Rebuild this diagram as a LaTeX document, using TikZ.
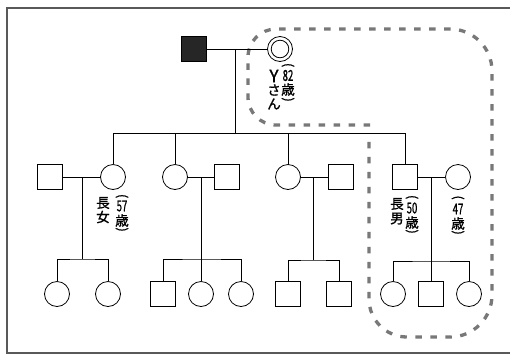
\documentclass[tikz,border=0pt]{standalone}
\usepackage{fontspec}
\usepackage{graphicx}
\newfontfamily\jp{Noto Sans CJK JP}[FakeBold=1.2]
\definecolor{framecol}{rgb}{0.35,0.35,0.35}
\definecolor{dashcol}{rgb}{0.47,0.47,0.47}
\newcommand{\vl}{\rotatebox[origin=c]{-90}{(}}
\newcommand{\vr}{\rotatebox[origin=c]{-90}{)}}
\newcommand{\nar}[1]{\scalebox{0.64}[1]{#1}}
\begin{document}
\begin{tikzpicture}[x=1pt,y=-1pt,
  male/.style={draw,line width=0.8pt,rectangle,minimum size=25pt,inner sep=0pt,fill=white},
  female/.style={draw,line width=0.8pt,circle,minimum size=25pt,inner sep=0pt,fill=white},
  link/.style={line width=0.8pt},
  lbl/.style={inner sep=0pt,font=\jp\fontsize{13.5}{13.5}\selectfont},
  nlbl/.style={inner sep=0pt,font=\jp\fontsize{15}{15}\selectfont},
  plbl/.style={inner sep=0pt,font=\jp\fontsize{12.5}{12.5}\selectfont},
  boundary/.style={draw=dashcol,line width=3.3pt,dash pattern=on 6.5pt off 8.5pt}]
\useasboundingbox (0,0) rectangle (510,357);
\fill[white] (0,0) rectangle (510,357);
% frame
\draw[framecol,line width=1.3pt] (510,8) -- (7,8) -- (7,353) -- (510,353);

% boundary
\draw[boundary] (370,125) [rounded corners=28pt] -- (248,125) -- (248,29)
  [rounded corners=42pt] -- (492,29) -- (492,337) [rounded corners=38pt] -- (369,337)
  [sharp corners] -- (369,137);

% generation 1
\node[male,fill=black!85] (f) at (193.5,49) {};
\node[female] (m) at (280,49) {};
\draw[link] (m.center) circle (8.8pt);
\coordinate (c1) at (235,49);
\coordinate (c1b) at (235,133);
\draw[link] (f.east) -- (m.west);
\draw[link] (c1) -- (c1b);

% generation 2
\node[male]   (s1) at (50,177) {};
\node[female] (d1) at (113,177) {};
\node[female] (d2) at (175,177) {};
\node[male]   (s2) at (227,177) {};
\node[female] (d3) at (288,177) {};
\node[male]   (s3) at (341,177) {};
\node[male]   (s4) at (405,177) {};
\node[female] (w4) at (458,177) {};

\coordinate (sibL) at (113,133);
\coordinate (sibR) at (405,133);
\draw[link] (sibL) -- (sibR);
\draw[link] (sibL) -- (d1.north);
\draw[link] (175,133) -- (d2.north);
\draw[link] (288,133) -- (d3.north);
\draw[link] (sibR) -- (s4.north);

\draw[link] (s1.east) -- (d1.west);
\draw[link] (d2.east) -- (s2.west);
\draw[link] (d3.east) -- (s3.west);
\draw[link] (s4.east) -- (w4.west);

% generation 3
\node[female] (g1a) at (57,294) {};
\node[female] (g1b) at (108,294) {};
\node[male]   (g2a) at (163,294) {};
\node[female] (g2b) at (201,294) {};
\node[female] (g2c) at (241,294) {};
\node[male]   (g3a) at (288,294) {};
\node[male]   (g3b) at (339,294) {};
\node[female] (g4a) at (393,294) {};
\node[male]   (g4b) at (431,294) {};
\node[female] (g4c) at (469,294) {};

\coordinate (m1) at (82,177);  \coordinate (k1) at (82,259);
\coordinate (m2) at (201,177); \coordinate (k2) at (201,259);
\coordinate (m3) at (313,177); \coordinate (k3) at (313,260);
\coordinate (m4) at (431,177); \coordinate (k4) at (431,261);
\draw[link] (m1) -- (k1);
\draw[link] (m2) -- (k2);
\draw[link] (m3) -- (k3);
\draw[link] (m4) -- (k4);

\draw[link] (g1a.north) |- (k1) -| (g1b.north);
\draw[link] (g2a.north) |- (k2) -| (g2c.north);
\draw[link] (k2) -- (g2b.north);
\draw[link] (g3a.north) |- (k3) -| (g3b.north);
\draw[link] (g4a.north) |- (k4) -| (g4c.north);
\draw[link] (k4) -- (g4b.north);

% labels
\node[lbl,font=\jp\fontsize{17}{17}\selectfont] (yY) at (274,76) {Y};
\node[lbl] (ySa) at (274,90) {さ};
\node[lbl] (yN) at (274,104) {ん};
\node[plbl] (p82a) at (288,66) {\vl};
\node[nlbl] (p82n) at (288,75.5) {\nar{82}};
\node[lbl] (p82s) at (288,89.5) {歳};
\node[plbl] (p82b) at (288,100.5) {\vr};

\node[lbl] (c1a) at (103,203) {長};
\node[lbl] (c1b2) at (103,217) {女};
\node[plbl] (p57a) at (122,197) {\vl};
\node[nlbl] (p57n) at (122,206) {\nar{57}};
\node[lbl] (p57s) at (122,220.5) {歳};
\node[plbl] (p57b) at (122,230.5) {\vr};

\node[lbl] (c4a) at (397,204) {長};
\node[lbl] (c4b) at (397,218.5) {男};
\node[plbl] (p50a) at (412,198) {\vl};
\node[nlbl] (p50n) at (412,208) {\nar{50}};
\node[lbl] (p50s) at (412,222.5) {歳};
\node[plbl] (p50b) at (412,232.5) {\vr};

\node[plbl] (p47a) at (458,198.5) {\vl};
\node[nlbl] (p47n) at (458,209) {\nar{47}};
\node[lbl] (p47s) at (458,223.5) {歳};
\node[plbl] (p47b) at (458,233.5) {\vr};
\end{tikzpicture}
\end{document}
